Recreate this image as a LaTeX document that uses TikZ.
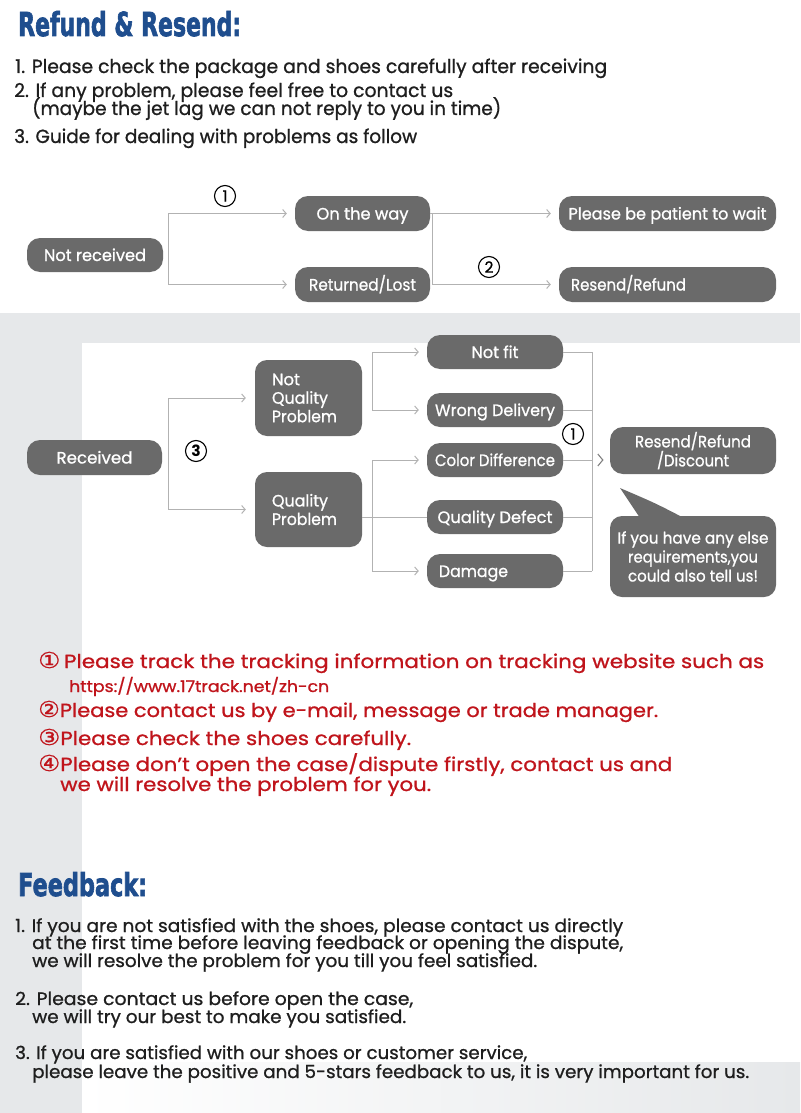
\documentclass[tikz,border=0pt]{standalone}
\usepackage{fontspec}
\usepackage{graphicx}
\setmainfont{Poppins}[UprightFeatures={FakeBold=0.9}]
\newfontfamily\headfont{DejaVu Sans}[BoldFeatures={FakeBold=2.5}]
\newfontfamily\symfont{DejaVu Sans}[FakeBold=0.6]
\usetikzlibrary{arrows.meta}
\definecolor{boxgrey}{HTML}{6A6A6A}
\definecolor{linegrey}{HTML}{B2B2B2}
\definecolor{bandgrey}{HTML}{E6E8EA}
\definecolor{headblue}{HTML}{1F4E8E}
\definecolor{txtred}{HTML}{C0141B}
\definecolor{txtdark}{HTML}{1E1E1E}
\newsavebox\fitbox
\newcommand\fitw[2]{\sbox\fitbox{#2}\pgfmathsetmacro\fitr{#1/\the\wd\fitbox}\scalebox{\fitr}[1]{\usebox\fitbox}}
\newcommand\cnum[1]{{\symfont\fontsize{22}{22}\selectfont #1}}
\begin{document}
\begin{tikzpicture}[x=1pt,y=-1pt,
  box/.style={fill=boxgrey, rounded corners=13pt, text=white, inner sep=0pt,
    font=\fontsize{16.5}{18.5}\selectfont},
  oneline/.style={text height=12pt, text depth=0pt},
  conn/.style={draw=linegrey, line width=1pt},
  arr/.style={conn, -{Straight Barb[length=3.5pt,width=8pt]}},
  num/.style={circle, draw=black, line width=1.1pt, minimum size=21pt, inner sep=0pt,
    font=\fontsize{15.5}{15.5}\selectfont, text=black},
  txtline/.style={anchor=base west, inner sep=0pt, text=txtdark,
    font=\fontsize{19}{22}\selectfont},
  fbline/.style={txtline, font=\fontsize{18}{20}\selectfont},
  redline/.style={txtline, text=txtred, font=\fontsize{19}{22}\selectfont},
  head/.style={anchor=base west, inner sep=0pt, text=headblue,
    font=\headfont\bfseries\fontsize{33}{33}\selectfont}]

\useasboundingbox (0,0) rectangle (800,1113);
\fill[white] (0,0) rectangle (800,1113);
\fill[bandgrey] (0,313) rectangle (800,343);
\fill[bandgrey] (0,313) rectangle (82,1113);
\shade[left color=white, right color=bandgrey] (82,1062) rectangle (800,1113);

% ---------- header text ----------
\node[head] (h1) at (18,36) {\fitw{223}{Refund \& Resend:}};
\node[txtline] (t1) at (15,73) {\fitw{592}{1. Please check the package and shoes carefully after receiving}};
\node[txtline] (t2) at (14,97) {\fitw{439}{2. If any problem, please feel free to contact us}};
\node[txtline] (t2b) at (32,115) {\fitw{469}{(maybe the jet lag we can not reply to you in time)}};
\node[txtline] (t3) at (14,143) {\fitw{403}{3. Guide for dealing with problems as follow}};

% ---------- top chart ----------
\node[box, oneline, minimum width=136pt, minimum height=34pt] (nr) at (95,255) {\fitw{102}{Not received}};
\node[box, oneline, minimum width=135pt, minimum height=35pt] (otw) at (362.5,213.5) {\fitw{92}{On the way}};
\node[box, oneline, minimum width=135pt, minimum height=35pt] (rl) at (362.5,284.5) {\fitw{107}{Returned/Lost}};
\node[box, oneline, minimum width=217pt, minimum height=35pt] (pbp) at (667.5,213.5) {\fitw{198}{Please be patient to wait}};
\node[box, oneline, minimum width=217pt, minimum height=35pt] (rr) at (667.5,284.5) {\makebox[193pt][l]{\fitw{115}{Resend/Refund}}};

\coordinate (busA) at (168,0);
\coordinate (busB) at (432,0);
\draw[conn] (busA |- otw.west) -- (busA |- rl.west);
\draw[arr] (busA |- otw.west) -- ([xshift=-8pt]otw.west);
\draw[arr] (busA |- rl.west) -- ([xshift=-8pt]rl.west);
\draw[conn] (busB |- otw.east) -- (busB |- rl.east);
\draw[conn] (otw.east) -- (busB |- otw.east);
\draw[arr] (busB |- otw.east) -- ([xshift=-8pt]pbp.west);
\draw[arr] (busB |- rl.east) -- ([xshift=-8pt]rr.west);
\node[num] (c1a) at (225,196) {1};
\node[num] (c2) at (489,267) {2};

% ---------- middle chart ----------
\node[box, oneline, minimum width=135pt, minimum height=35pt] (rec) at (94.5,457.5) {\fitw{76}{Received}};
\node[box, align=left, text width=73pt, inner xsep=17pt, minimum height=76pt, rounded corners=12pt] (nqp) at (308.5,398)
  {\fitw{28}{Not}\\\fitw{56}{Quality}\\\fitw{65}{Problem}};
\node[box, align=left, text width=73pt, inner xsep=17pt, minimum height=75pt, rounded corners=12pt] (qp) at (308.5,509.5)
  {\fitw{56}{Quality}\\\fitw{65}{Problem}};
\node[box, oneline, minimum width=136pt, minimum height=34pt] (nf) at (495,352) {\fitw{47}{Not fit}};
\node[box, oneline, minimum width=136pt, minimum height=34pt] (wd) at (495,410) {\fitw{120}{Wrong Delivery}};
\node[box, oneline, minimum width=136pt, minimum height=34pt] (cd) at (495,460) {\fitw{120}{Color Difference}};
\node[box, oneline, minimum width=136pt, minimum height=34pt] (qd) at (495,517) {\fitw{115}{Quality Defect}};
\node[box, oneline, minimum width=136pt, minimum height=34pt] (dm) at (495,571) {\makebox[112pt][l]{\fitw{69}{Damage}}};
\node[box, align=center, minimum width=166pt, minimum height=47pt, font=\fontsize{16.5}{19}\selectfont] (rrd) at (693,450.5)
  {\fitw{116}{Resend/Refund}\\\fitw{72}{/Discount}};
\node[box, align=center, minimum width=166pt, minimum height=81pt, rounded corners=12pt, font=\fontsize{16}{19}\selectfont] (bub) at (693,556.5)
  {\fitw{151}{If you have any else}\\\fitw{130}{requirements,you}\\\fitw{130}{could also tell us!}};
\fill[boxgrey] (620,488) .. controls (628,500) .. (640,518) -- (684,518) .. controls (655,503) .. (620,488) -- cycle;

\coordinate (busC) at (168,0);
\coordinate (busD) at (372,0);
\coordinate (busE) at (592,0);
\draw[conn] (busC |- nqp.west) -- (busC |- qp.west);
\draw[arr] (busC |- nqp.west) -- ([xshift=-9pt]nqp.west);
\draw[arr] (busC |- qp.west) -- ([xshift=-9pt]qp.west);
\draw[conn] (busD |- nf.west) -- (busD |- wd.west);
\draw[arr] (busD |- nf.west) -- ([xshift=-8pt]nf.west);
\draw[arr] (busD |- wd.west) -- ([xshift=-8pt]wd.west);
\draw[conn] (busD |- cd.west) -- (busD |- dm.west);
\draw[arr] (busD |- cd.west) -- ([xshift=-8pt]cd.west);
\draw[arr] (busD |- dm.west) -- ([xshift=-8pt]dm.west);
\draw[conn] (qp.east |- qd.west) -- (qd.west);
\draw[conn] (busE |- nf.east) -- (busE |- dm.east);
\foreach \b in {nf,wd,cd,qd,dm} { \draw[conn] (\b.east) -- (busE |- \b.east); }
\draw[draw=gray, line width=1.1pt] ([xshift=-12pt,yshift=6pt]rrd.west |- cd.east) -- ([xshift=-7pt]rrd.west |- cd.east) -- ([xshift=-12pt,yshift=-6pt]rrd.west |- cd.east);
\node[num] (c3) at (196,451) {\textbf{3}};
\node[num, fill=white] (c1b) at (573,434) {1};

% ---------- red notes ----------
\node[redline] (r1) at (38,668) {\fitw{726}{\cnum{①}\,Please track the tracking information on tracking website such as}};
\node[redline, font=\fontsize{16}{18}\selectfont] (r1b) at (69,692) {\fitw{260}{https://www.17track.net/zh-cn}};
\node[redline] (r2) at (38,717) {\fitw{620}{\cnum{②}Please contact us by e-mail, message or trade manager.}};
\node[redline] (r3) at (38,745) {\fitw{373}{\cnum{③}Please check the shoes carefully.}};
\node[redline] (r4) at (38,771) {\fitw{634}{\cnum{④}Please don’t open the case/dispute firstly, contact us and}};
\node[redline] (r4b) at (60,791) {\fitw{371}{we will resolve the problem for you.}};

% ---------- feedback ----------
\node[head, font=\headfont\bfseries\fontsize{31.5}{32}\selectfont] (h2) at (18,896) {\fitw{129}{Feedback:}};
\node[fbline] (f1) at (15,932) {\fitw{608}{1. If you are not satisfied with the shoes, please contact us directly}};
\node[fbline] (f1b) at (32,949) {\fitw{591}{at the first time before leaving feedback or opening the dispute,}};
\node[fbline] (f1c) at (32,967) {\fitw{505}{we will resolve the problem for you till you feel satisfied.}};
\node[fbline] (f2) at (15,1005) {\fitw{398}{2. Please contact us before open the case,}};
\node[fbline] (f2b) at (32,1023) {\fitw{374}{we will try our best to make you satisfied.}};
\node[fbline] (f3) at (15,1059) {\fitw{512}{3. If you are satisfied with our shoes or customer service,}};
\node[fbline] (f3b) at (32,1078) {\fitw{717}{please leave the positive and 5-stars feedback to us, it is very important for us.}};
\end{tikzpicture}
\end{document}
